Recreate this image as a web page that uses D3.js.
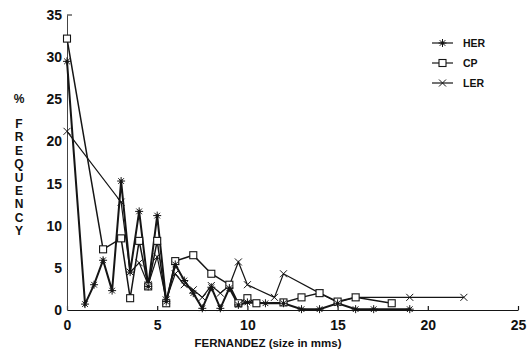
<!DOCTYPE html>
<html><head><meta charset="utf-8">
<script src="https://cdn.jsdelivr.net/npm/d3@7"></script>
<style>body{margin:0;background:#fff}svg{display:block}text{font-family:"Liberation Sans",Arial,sans-serif;font-weight:bold;fill:#111}</style>
</head><body><svg id="c" width="527" height="349"></svg>
<script>
const herX = [0,1,1.5,2,2.5,3,3.5,4,4.5,5,5.5,6,6.5,7,7.5,8,8.5,9,9.5,10,11,12,13,14,15,16,17,19];
const herY = [29.5,0.7,3.0,5.9,2.3,15.3,4.5,11.7,2.8,11.2,1.0,5.4,3.5,2.0,0.2,2.7,0.2,2.6,0.6,0.9,0.8,0.8,0.1,0.1,0.8,0.1,0.1,0.1];
const cpX = [0,2,3,3.5,4,4.5,5,5.5,6,7,8,9,9.5,10,10.5,12,13,14,15,16,18];
const cpY = [32.2,7.2,8.5,1.4,8.2,2.8,8.2,0.8,5.8,6.5,4.3,3.0,0.8,1.4,0.8,0.9,1.5,2.0,1.0,1.5,0.8];
const lerX = [0,3,3.5,4,4.5,5,5.5,6,6.5,7,7.5,8,8.5,9,9.5,10,11.5,12,14,15,16,19,22];
const lerY = [21.2,12.8,4.5,5.6,3.0,6.3,1.2,4.3,3.0,2.4,1.5,2.9,2.0,2.9,5.7,3.0,1.5,4.3,2.0,0.9,1.5,1.5,1.5];
const xTicks = [0,5,10,15,20,25];
const yTicks = [0,5,10,15,20,25,30,35];
const seriesNames = ["HER","CP","LER"];
const yTitle = ["%","F","R","E","Q","U","E","N","C","Y"];
const xTitle = "FERNANDEZ (size in mms)";

const svg = d3.select("#c");
const x = d3.scaleLinear().domain([0,25]).range([67,518]);
const y = d3.scaleLinear().domain([0,35]).range([310,15]);
const ink = "#151515";

// axes
const xa = svg.append("g").attr("transform",`translate(0,${y(0)})`)
  .call(d3.axisBottom(x).tickValues(xTicks).tickSizeInner(-4).tickSizeOuter(0).tickPadding(10));
xa.select(".domain").attr("stroke",ink).attr("stroke-width",1.2);
xa.selectAll(".tick line").attr("stroke",ink).attr("stroke-width",1.2);
xa.selectAll(".tick text").attr("font-size",14).attr("dy","0.68em");
const ya = svg.append("g").attr("transform",`translate(${x(0)},0)`)
  .call(d3.axisLeft(y).tickValues(yTicks).tickSize(0).tickPadding(5));
ya.select(".domain").attr("stroke","#444").attr("stroke-width",1);
ya.selectAll(".tick text").attr("font-size",14);
svg.append("line").attr("x1",x(0)).attr("x2",x(0)+5).attr("y1",y(35)).attr("y2",y(35)).attr("stroke",ink).attr("stroke-width",1);

// titles
svg.selectAll(".yt").data(yTitle).join("text").attr("class","yt")
  .attr("x",19).attr("y",(d,i)=> i===0 ? 103 : 128 + (i-1)*13.4)
  .attr("text-anchor","middle").attr("font-size",12).text(d=>d);
svg.append("text").attr("x",268).attr("y",347).attr("text-anchor","middle").attr("font-size",11.5).text(xTitle);

// series
const line = d3.line().x(d=>x(d[0])).y(d=>y(d[1]));
const her = herX.map((v,i)=>[v,herY[i]]);
const cp = cpX.map((v,i)=>[v,cpY[i]]);
const ler = lerX.map((v,i)=>[v,lerY[i]]);

svg.append("path").datum(ler).attr("d",line).attr("fill","none").attr("stroke",ink).attr("stroke-width",1.2);
svg.append("path").datum(cp).attr("d",line).attr("fill","none").attr("stroke",ink).attr("stroke-width",1.5);
svg.append("path").datum(her).attr("d",line).attr("fill","none").attr("stroke",ink).attr("stroke-width",2);

function star(g,cx,cy,r){
  for(let k=0;k<4;k++){const a=k*Math.PI/4;
    g.append("line").attr("x1",cx-r*Math.cos(a)).attr("y1",cy-r*Math.sin(a)).attr("x2",cx+r*Math.cos(a)).attr("y2",cy+r*Math.sin(a)).attr("stroke",ink).attr("stroke-width",1);}
  g.append("circle").attr("cx",cx).attr("cy",cy).attr("r",1.6).attr("fill",ink);
}
function cross(g,cx,cy,r){
  g.append("line").attr("x1",cx-r).attr("y1",cy-r).attr("x2",cx+r).attr("y2",cy+r).attr("stroke",ink).attr("stroke-width",1);
  g.append("line").attr("x1",cx-r).attr("y1",cy+r).attr("x2",cx+r).attr("y2",cy-r).attr("stroke",ink).attr("stroke-width",1);
}
function square(g,cx,cy,r){
  g.append("rect").attr("x",cx-r).attr("y",cy-r).attr("width",2*r).attr("height",2*r).attr("fill","#fff").attr("stroke",ink).attr("stroke-width",1.1);
}
const mk = svg.append("g");
ler.forEach(d=>cross(mk,x(d[0]),y(d[1]),3.5));
cp.forEach(d=>square(mk,x(d[0]),y(d[1]),3.5));
her.forEach(d=>star(mk,x(d[0]),y(d[1]),4));

// legend
const lg = svg.append("g");
const lgY = [43,63,83];
const drawers = [star,square,cross];
seriesNames.forEach((n,i)=>{
  lg.append("line").attr("x1",432).attr("x2",453).attr("y1",lgY[i]).attr("y2",lgY[i]).attr("stroke",ink).attr("stroke-width",1.2);
  drawers[i](lg,442.5,lgY[i],i===0?4:3.5);
  lg.append("text").attr("x",463).attr("y",lgY[i]).attr("dy","0.35em").attr("font-size",10.5).text(n);
});
</script></body></html>
